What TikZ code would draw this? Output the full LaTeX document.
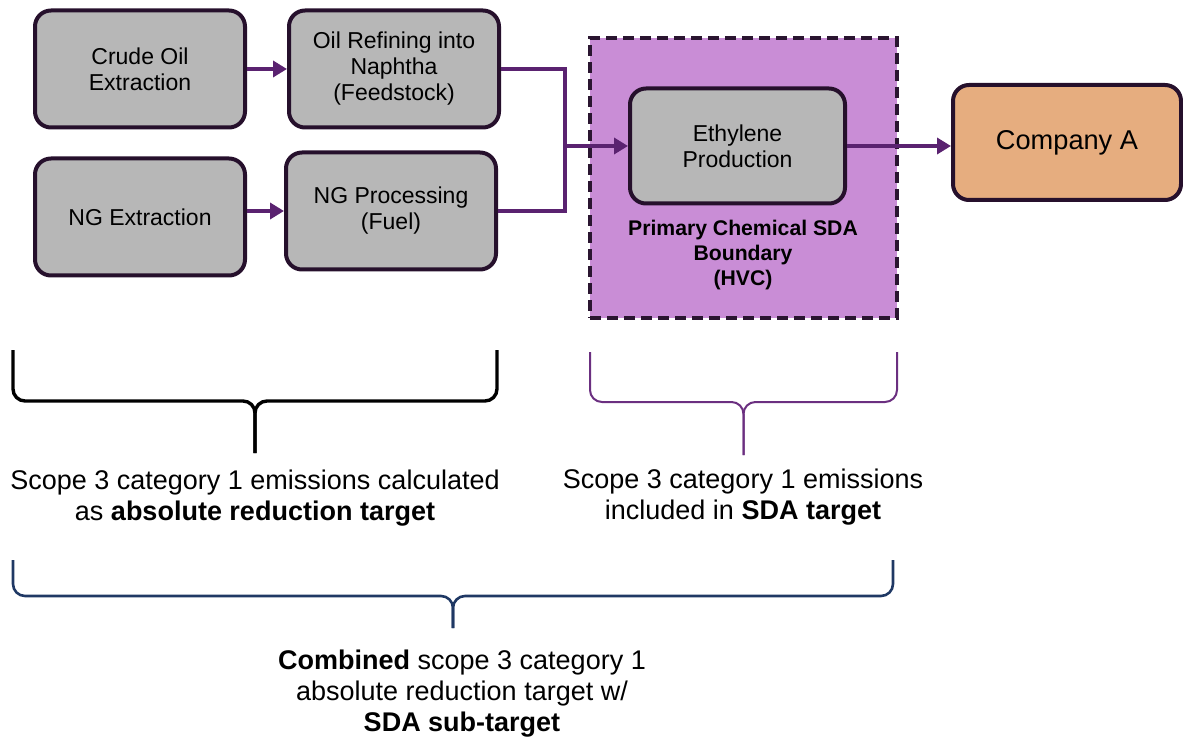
\documentclass[tikz,border=0pt]{standalone}
\usepackage{fontspec}
\setmainfont{Liberation Sans}
\usetikzlibrary{positioning,arrows.meta}
\definecolor{boxfill}{HTML}{B7B7B7}
\definecolor{boxdraw}{HTML}{26102C}
\definecolor{flowdraw}{HTML}{5A2270}
\definecolor{hvcfill}{HTML}{C98DD6}
\definecolor{hvcdraw}{HTML}{2A1530}
\definecolor{cofill}{HTML}{E6AD7F}
\definecolor{bracepurple}{HTML}{6B2F80}
\definecolor{bracenavy}{HTML}{1F3864}

\begin{document}
\begin{tikzpicture}[
    x=0.5pt, y=-0.5pt,
    >={Triangle[length=7pt,width=8pt]},
    stage/.style={rectangle, rounded corners=8pt, fill=boxfill, draw=boxdraw,
                  line width=2pt, minimum width=105pt, minimum height=58.5pt,
                  align=center, font=\fontsize{11.5}{13}\selectfont},
    company/.style={stage, fill=cofill, minimum width=114pt, minimum height=57.5pt,
                    font=\fontsize{13.6}{15}\selectfont},
    flow/.style={->, draw=flowdraw, line width=2pt},
    flowline/.style={draw=flowdraw, line width=2pt},
    boundary/.style={rectangle, fill=hvcfill, draw=hvcdraw, line width=1.6pt,
                     dash pattern=on 5.5pt off 3pt, minimum width=153.5pt,
                     minimum height=140pt},
    brace/.style={rounded corners=6pt},
    caption/.style={align=center, font=\fontsize{13.5}{15.5}\selectfont},
]
\useasboundingbox (0,0) rectangle (1183,743);

% ---------------- Upstream supply chain ----------------
\node[stage] (crude) at (140,69) {Crude Oil\\Extraction};
\node[stage, right=20pt of crude] (oil) {Oil Refining into\\Naphtha\\(Feedstock)};
\node[stage] (ngx) at (140,217) {NG Extraction};
\node[stage] (ngp) at (391,211) {NG Processing\\(Fuel)};

\draw[flow] (crude.east) -- (oil.west);
\draw[flow] (ngx.east |- ngp) -- (ngp.west);

% ---------------- SDA boundary ----------------
\node[boundary] (hvc) at (743.5,178) {};
\node[stage, minimum width=107.5pt, minimum height=57.5pt] (eth) at (737.5,146)
  {Ethylene\\Production};
\node[align=center, font=\bfseries\fontsize{10.6}{12.5}\selectfont] (hvclabel)
  at (743,255) {Primary Chemical SDA\\Boundary\\(HVC)};

\node[company] (co) at (1067,142.5) {Company A};

% merge of both feeds into ethylene
\coordinate (bus) at (565,146);
\draw[flowline] (oil.east) -| (bus |- ngp.east) -- (ngp.east);
\draw[flow] (bus) -- (eth.west);
\draw[flow] (eth.east) -- (eth.east -| co.west);

% ---------------- Braces and notes ----------------
\foreach \xl/\xr/\yt/\yh/\yb/\col/\lw in {13/497/350/401/453/black/1.7pt,
    590/897/352/402/455/bracepurple/1pt, 13/893/560/596/628/bracenavy/1.3pt} {
  \draw[brace, draw=\col, line width=\lw]
    (\xl,\yt) -- (\xl,\yh) -- ({(\xl+\xr)/2},\yh) -- ({(\xl+\xr)/2},\yb);
  \draw[brace, draw=\col, line width=\lw]
    (\xr,\yt) -- (\xr,\yh) -- ({(\xl+\xr)/2},\yh) -- ({(\xl+\xr)/2},\yb);
}

\node[caption] (absnote) at (255,498)
  {Scope 3 category 1 emissions calculated\\as \textbf{absolute reduction target}};
\node[caption] (sdanote) at (743,497)
  {Scope 3 category 1 emissions\\included in \textbf{SDA target}};
\node[caption] (combnote) at (462,694)
  {\textbf{Combined} scope 3 category 1\\absolute reduction target w/\\\textbf{SDA sub-target}};

\end{tikzpicture}
\end{document}
